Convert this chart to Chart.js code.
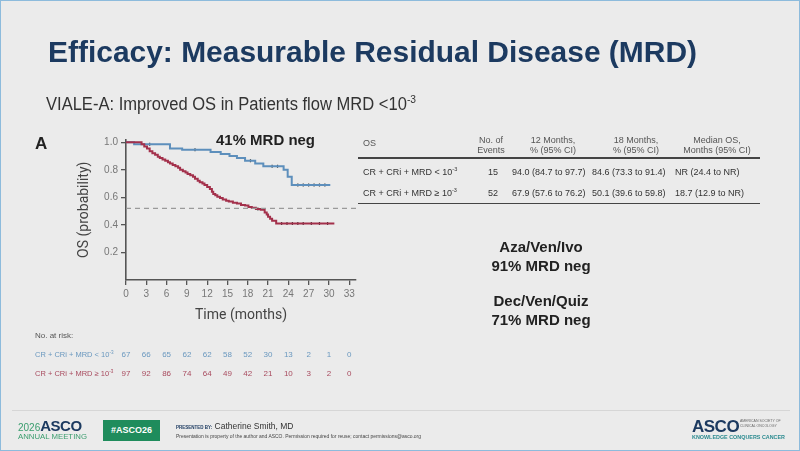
<!DOCTYPE html>
<html>
<head>
<meta charset="utf-8">
<script src="https://cdn.jsdelivr.net/npm/chart.js@4"></script>
<style>
html, body { margin: 0; padding: 0; }
body { width: 800px; height: 451px; background: #ebebeb; position: relative; overflow: hidden; font-family: "Liberation Sans", Arial, sans-serif; }
#frame { position: absolute; left: 0; top: 0; width: 798px; height: 449px; border: 1px solid #8dbbdc; }
canvas { position: absolute; left: 0; top: 0; }
.t { position: absolute; white-space: nowrap; line-height: 1; transform-origin: left center; }
sup { font-size: 62%; line-height: 0; vertical-align: super; }
.hd { position: absolute; width: 90px; text-align: center; font-size: 9px; line-height: 10px; color: #555; }
.rule { position: absolute; background: #444; height: 1.5px; }
.big { position: absolute; left: 471px; width: 140px; text-align: center; font-weight: bold; font-size: 15px; line-height: 1; color: #222; }
</style>
</head>
<body>
<div id="frame"></div>
<canvas id="myChart" width="800" height="451"></canvas>

<div class="t" data-w="649" style="left:48px;top:37px;font-size:30px;font-weight:bold;color:#1c3a60;">Efficacy: Measurable Residual Disease (MRD)</div>
<div class="t" data-w="370" style="left:46px;top:95px;font-size:18px;color:#333;">VIALE-A: Improved OS in Patients flow MRD &lt;10<sup>-3</sup></div>
<div class="t" style="left:35px;top:135px;font-size:17px;font-weight:bold;color:#222;">A</div>
<div class="t" data-w="99" style="left:216px;top:132px;font-size:15px;font-weight:bold;color:#222;">41% MRD neg</div>

<!-- table -->
<div class="t" style="left:363px;top:139px;font-size:9px;color:#555;">OS</div>
<div class="hd" style="left:446px;top:135px;">No. of<br>Events</div>
<div class="hd" style="left:508px;top:135px;">12 Months,<br>% (95% CI)</div>
<div class="hd" style="left:591px;top:135px;">18 Months,<br>% (95% CI)</div>
<div class="hd" style="left:672px;top:135px;">Median OS,<br>Months (95% CI)</div>
<div class="rule" style="left:358px;top:157px;width:402px;"></div>
<div class="t" style="left:363px;top:167.5px;font-size:9px;color:#333;">CR + CRi + MRD &lt; 10<sup>-3</sup></div>
<div class="t" style="left:488px;top:167.5px;font-size:9px;color:#333;">15</div>
<div class="t" style="left:512px;top:167.5px;font-size:9px;color:#333;">94.0 (84.7 to 97.7)</div>
<div class="t" style="left:592px;top:167.5px;font-size:9px;color:#333;">84.6 (73.3 to 91.4)</div>
<div class="t" style="left:675px;top:167.5px;font-size:9px;color:#333;">NR (24.4 to NR)</div>
<div class="t" style="left:363px;top:189px;font-size:9px;color:#333;">CR + CRi + MRD &ge; 10<sup>-3</sup></div>
<div class="t" style="left:488px;top:189px;font-size:9px;color:#333;">52</div>
<div class="t" style="left:512px;top:189px;font-size:9px;color:#333;">67.9 (57.6 to 76.2)</div>
<div class="t" style="left:592px;top:189px;font-size:9px;color:#333;">50.1 (39.6 to 59.8)</div>
<div class="t" style="left:675px;top:189px;font-size:9px;color:#333;">18.7 (12.9 to NR)</div>
<div class="rule" style="left:358px;top:202.5px;width:402px;"></div>

<div class="big" style="top:239px;">Aza/Ven/Ivo</div>
<div class="big" style="top:258px;">91% MRD neg</div>
<div class="big" style="top:293px;">Dec/Ven/Quiz</div>
<div class="big" style="top:312px;">71% MRD neg</div>

<!-- risk table labels -->
<div class="t" style="left:35px;top:332px;font-size:8px;color:#555;">No. at risk:</div>
<div class="t" style="left:35px;top:351px;font-size:7.5px;color:#6a98bf;">CR + CRi + MRD &lt; 10<sup>-3</sup></div>
<div class="t" style="left:35px;top:370px;font-size:7.5px;color:#a84a5e;">CR + CRi + MRD &ge; 10<sup>-3</sup></div>

<!-- footer -->
<div style="position:absolute;left:12px;top:410px;width:778px;height:1px;background:#d6d6d6;"></div>
<div class="t" style="left:18px;top:418px;font-size:10px;color:#3a9d6e;">2026<span style="font-size:15px;font-weight:bold;color:#1c3a60;letter-spacing:-0.5px;">ASCO</span></div>
<div class="t" data-w="69" style="left:18px;top:433px;font-size:7px;color:#3a9d6e;">ANNUAL MEETING</div>
<div style="position:absolute;left:103px;top:420px;width:57px;height:21px;background:#1f8c5c;color:#fff;font-weight:bold;font-size:9px;line-height:21px;text-align:center;">#ASCO26</div>
<div class="t" style="left:176px;top:422px;font-size:8.5px;color:#333;"><span style="font-size:4.5px;font-weight:bold;color:#1c3a60;">PRESENTED BY:</span> Catherine Smith, MD</div>
<div class="t" data-w="245" style="left:176px;top:435px;font-size:4.5px;color:#444;">Presentation is property of the author and ASCO. Permission required for reuse; contact permissions@asco.org</div>
<div class="t" style="left:692px;top:418px;font-size:17px;font-weight:bold;color:#1c3a60;letter-spacing:-0.5px;">ASCO</div>
<div style="position:absolute;left:740px;top:419px;font-size:3.5px;line-height:4.5px;color:#666;">AMERICAN SOCIETY OF<br>CLINICAL ONCOLOGY</div>
<div class="t" data-w="93" style="left:692px;top:435px;font-size:5.5px;font-weight:bold;color:#2a8a8f;">KNOWLEDGE CONQUERS CANCER</div>

<script>
// survival curves (months, probability)
const lowTimes = [0, 1.2, 6.5, 8.3, 12.5, 14.0, 15.3, 16.4, 17.6, 19.1, 20.3, 23.3, 23.9, 24.5, 30.2];
const lowSurv  = [1.0, 0.985, 0.955, 0.945, 0.93, 0.915, 0.90, 0.885, 0.865, 0.845, 0.825, 0.80, 0.75, 0.69, 0.69];

const highTimes = [0, 2.3, 2.7, 3.1, 3.5, 3.9, 4.3, 4.7, 5.0, 5.4, 5.8, 6.2, 6.5, 6.9, 7.3, 7.7, 8.0, 8.4, 8.8, 9.1, 9.5, 9.9, 10.2, 10.6, 10.9, 11.3, 11.6, 12.0, 12.4, 12.7, 12.9, 13.2, 13.5, 13.9, 14.3, 14.8, 15.2, 15.8, 16.4, 17.0, 17.6, 18.1, 18.6, 19.2, 19.9, 20.5, 20.8, 21.0, 21.3, 21.6, 22.2, 30.8];
const highSurv  = [1.0, 0.985, 0.97, 0.955, 0.935, 0.92, 0.91, 0.895, 0.885, 0.875, 0.865, 0.855, 0.845, 0.835, 0.825, 0.815, 0.80, 0.79, 0.78, 0.77, 0.76, 0.75, 0.735, 0.72, 0.71, 0.70, 0.69, 0.675, 0.66, 0.64, 0.625, 0.615, 0.605, 0.595, 0.585, 0.575, 0.57, 0.56, 0.555, 0.545, 0.54, 0.53, 0.525, 0.515, 0.51, 0.49, 0.475, 0.46, 0.445, 0.43, 0.41, 0.41];

// censoring marks
const lowCensorT = [3.5, 10.2, 18.4, 21.6, 22.4, 25.4, 26.2, 27.0, 27.8, 28.6, 29.4];
const lowCensorS = [0.985, 0.945, 0.865, 0.825, 0.825, 0.69, 0.69, 0.69, 0.69, 0.69, 0.69];
const highCensorT = [19.5, 23.0, 23.8, 24.6, 25.4, 26.2, 27.4, 28.6, 29.8];
const highCensorS = [0.515, 0.41, 0.41, 0.41, 0.41, 0.41, 0.41, 0.41, 0.41];

const medianLevel = 0.52;

const xTicks = [0, 3, 6, 9, 12, 15, 18, 21, 24, 27, 30, 33];
const yTicks = [0.2, 0.4, 0.6, 0.8, 1.0];

const riskLow  = [67, 66, 65, 62, 62, 58, 52, 30, 13, 2, 1, 0];
const riskHigh = [97, 92, 86, 74, 64, 49, 42, 21, 10, 3, 2, 0];

const blue = '#5d8fbc';
const red = '#a3304b';

const toPts = (ts, ss) => ts.map((t, i) => ({ x: t, y: ss[i] }));

Chart.defaults.font.family = '"Liberation Sans", Arial, sans-serif';

const riskTable = {
  id: 'riskTable',
  afterDraw(chart) {
    const { ctx } = chart;
    const x = chart.scales.x;
    ctx.save();
    ctx.font = '8px "Liberation Sans", Arial, sans-serif';
    ctx.textAlign = 'center';
    ctx.textBaseline = 'middle';
    const rows = [[riskLow, '#6a98bf', 355], [riskHigh, '#a84a5e', 374]];
    rows.forEach(([vals, col, yy]) => {
      ctx.fillStyle = col;
      vals.forEach((v, i) => ctx.fillText(String(v), x.getPixelForValue(xTicks[i]), yy));
    });
    ctx.restore();
  }
};

let ctx = document.querySelector('#myChart');

let grafico = new Chart(ctx, {
  type: 'line',
  data: {
    datasets: [
      {
        data: [{ x: 0, y: medianLevel }, { x: 34, y: medianLevel }],
        borderColor: '#9a9a9a',
        borderWidth: 1.3,
        borderDash: [5, 4],
        pointRadius: 0,
      },
      {
        data: toPts(highTimes, highSurv),
        borderColor: red,
        borderWidth: 2,
        stepped: true,
        pointRadius: 0,
      },
      {
        data: toPts(lowTimes, lowSurv),
        borderColor: blue,
        borderWidth: 2,
        stepped: true,
        pointRadius: 0,
      },
      {
        type: 'scatter',
        data: toPts(highCensorT, highCensorS).concat(toPts(lowCensorT, lowCensorS)),
        pointStyle: 'line',
        rotation: 90,
        pointRadius: 1.5,
        borderColor: '#333',
        borderWidth: 1.2,
      },
    ],
  },
  options: {
    responsive: false,
    animation: false,
    layout: { padding: { left: 75, right: 444, top: 139.5, bottom: 126 } },
    plugins: { legend: { display: false }, tooltip: { enabled: false } },
    scales: {
      x: {
        type: 'linear',
        min: 0,
        max: 34,
        afterBuildTicks: (s) => { s.ticks = xTicks.map(v => ({ value: v })); },
        afterFit: (s) => { s.height = 45; },
        grid: { drawOnChartArea: false, drawTicks: true, tickLength: 5, color: '#555', lineWidth: 1.3 },
        border: { display: true, color: '#555', width: 1.6 },
        ticks: { color: '#777', font: { size: 10 }, padding: 3, maxRotation: 0 },
        title: { display: true, text: 'Time (months)', color: '#444', font: { size: 14, family: 'Roboto' }, padding: { top: 2, bottom: 1 } },
      },
      y: {
        min: 0,
        max: 1.02,
        afterBuildTicks: (s) => { s.ticks = yTicks.map(v => ({ value: v })); },
        afterFit: (s) => { s.width = 51; },
        grid: { drawOnChartArea: false, drawTicks: true, tickLength: 5, color: '#555', lineWidth: 1.3 },
        border: { display: true, color: '#555', width: 1.6 },
        ticks: { color: '#777', font: { size: 10 }, padding: 3, callback: (v) => v.toFixed(1) },
        title: { display: true, text: 'OS (probability)', color: '#444', font: { size: 14, family: 'Roboto' }, padding: { top: 1, bottom: 2 } },
      },
    },
  },
  plugins: [riskTable],
});

// stretch text to the widths on the slide
document.querySelectorAll('[data-w]').forEach(el => {
  const w = el.getBoundingClientRect().width;
  el.style.transform = 'scaleX(' + (parseFloat(el.dataset.w) / w) + ')';
});
</script>
</body>
</html>
